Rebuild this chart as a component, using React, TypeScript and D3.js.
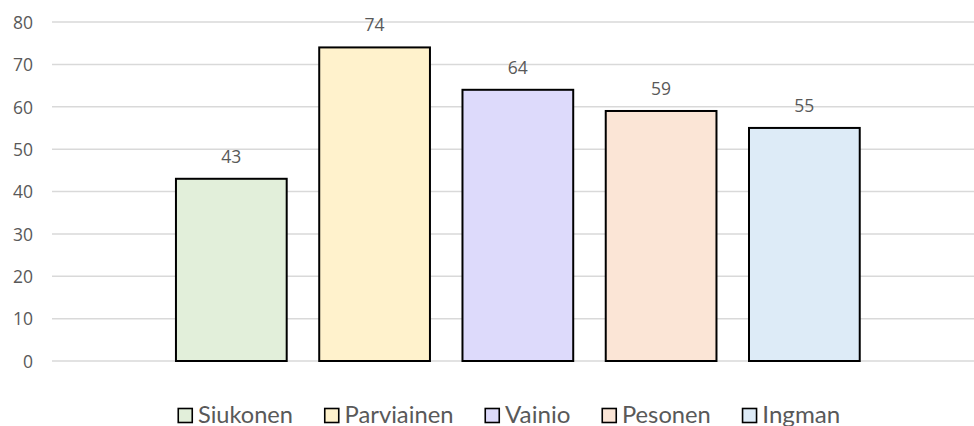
import React from "react";
import * as d3 from "d3";

const names = ["Siukonen", "Parviainen", "Vainio", "Pesonen", "Ingman"];
const values = [43, 74, 64, 59, 55];
const colors = ["#E2EFDA", "#FFF2CC", "#DDDAFB", "#FBE5D6", "#DDEBF7"];
const yTicks = [0, 10, 20, 30, 40, 50, 60, 70, 80];
// legend label widths (px) to mimic narrow Calibri rendering
const legendWidths = [95, 109, 65.5, 88.8, 78];

const W = 974;
const H = 426;

export default function App() {
  const y = d3.scaleLinear().domain([0, 80]).range([361, 22]);
  const x = d3
    .scaleBand<string>()
    .domain(names)
    .range([159.7, 876])
    .paddingInner(0.227)
    .paddingOuter(0.1135);

  const textFill = "#595959";
  const numFont = "'Open Sans', sans-serif";

  // legend layout
  const legendStart = 177.5;
  const sq = 14;
  const gapText = 5.5;
  const gapItem = 31;
  const legendX: number[] = [];
  let cur = legendStart;
  legendWidths.forEach((w) => {
    legendX.push(cur);
    cur += sq + 1 + gapText + w + gapItem;
  });

  return (
    <svg
      width={W}
      height={H}
      style={{ position: "absolute", left: 0, top: 0, background: "#fff" }}
    >
      <rect x={0} y={0} width={W} height={H} fill="#fff" />
      {yTicks.map((t) => (
        <g key={t}>
          <line
            x1={52}
            x2={W}
            y1={y(t)}
            y2={y(t)}
            stroke="#D9D9D9"
            strokeWidth={1.5}
          />
          <text
            x={33}
            y={y(t) + 6.8}
            textAnchor="end"
            fontFamily={numFont}
            fontSize={17.5}
            fill={textFill}
          >
            {t}
          </text>
        </g>
      ))}
      {names.map((n, i) => {
        const bx = x(n)!;
        const bw = x.bandwidth();
        return (
          <g key={n}>
            <rect
              x={bx}
              y={y(values[i])}
              width={bw}
              height={y(0) - y(values[i])}
              fill={colors[i]}
              stroke="#000"
              strokeWidth={2}
            />
            <text
              x={bx + bw / 2}
              y={y(values[i]) - 16}
              textAnchor="middle"
              fontFamily={numFont}
              fontSize={17.5}
              fill={textFill}
            >
              {values[i]}
            </text>
          </g>
        );
      })}
      {names.map((n, i) => (
        <g key={"lg" + n}>
          <rect
            x={legendX[i] + 0.75}
            y={408.5}
            width={sq}
            height={sq}
            fill={colors[i]}
            stroke="#000"
            strokeWidth={1.6}
          />
          <text
            x={legendX[i] + sq + 1 + gapText}
            y={422.5}
            fontFamily="Lato, 'Open Sans', sans-serif"
            fontSize={24}
            fill={textFill}
            textLength={legendWidths[i]}
            lengthAdjust="spacingAndGlyphs"
          >
            {n}
          </text>
        </g>
      ))}
    </svg>
  );
}
